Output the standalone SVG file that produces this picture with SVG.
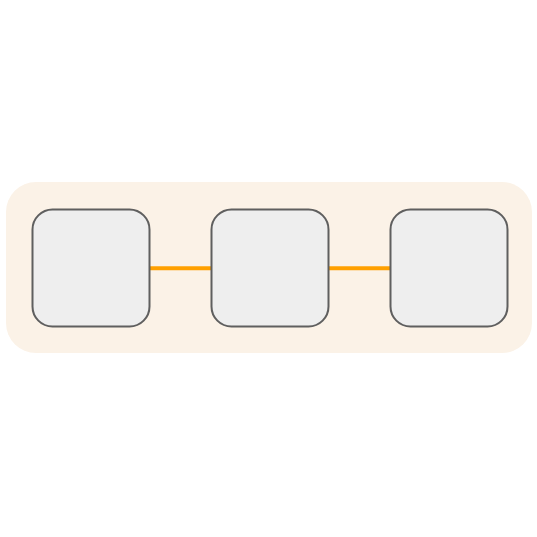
<svg xmlns="http://www.w3.org/2000/svg" width="537" height="537" viewBox="0 0 537 537">
<style>
.node{fill:#eeeeee;stroke:#5f5f5f;stroke-width:2}
.edge{stroke:#ffa000;stroke-width:4;fill:none}
</style>
<rect width="537" height="537" fill="#ffffff"/>
<rect id="container" x="6" y="182" width="526" height="171" rx="30" fill="#fbf2e7"/>
<g id="connectors">
<line class="edge" x1="150" y1="268.3" x2="211" y2="268.3"/>
<line class="edge" x1="329" y1="268.3" x2="390" y2="268.3"/>
</g>
<g id="node1"><rect class="node" x="32.5" y="209.5" width="117" height="117" rx="20"/></g>
<g id="node2"><rect class="node" x="211.5" y="209.5" width="117" height="117" rx="20"/></g>
<g id="node3"><rect class="node" x="390.5" y="209.5" width="117" height="117" rx="20"/></g>
</svg>
